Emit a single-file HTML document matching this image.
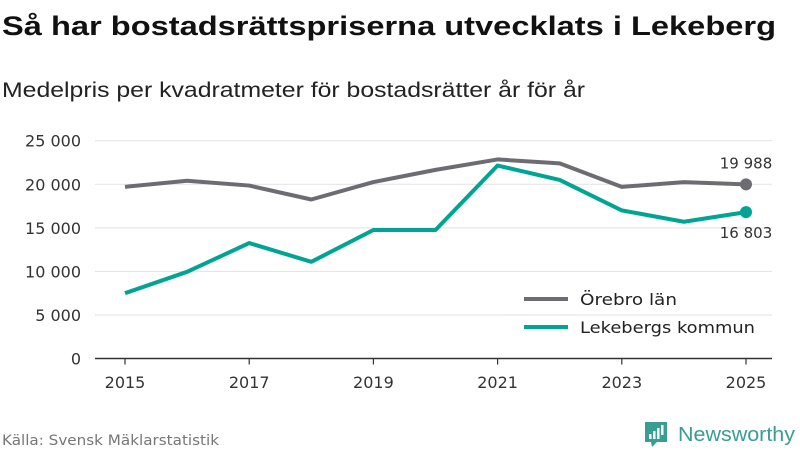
<!DOCTYPE html>
<html><head><meta charset="utf-8"><style>
html,body{margin:0;padding:0;background:#fff;}
svg{display:block;font-family:"DejaVu Sans","Liberation Sans",sans-serif;}
</style></head><body>
<svg id="chart" width="800" height="450" viewBox="0 0 800 450">
<text x="2" y="35" font-size="27" font-weight="bold" fill="#111" font-family="Liberation Sans" textLength="774" lengthAdjust="spacingAndGlyphs">Så har bostadsrättspriserna utvecklats i Lekeberg</text>
<text x="2" y="97" font-size="21" fill="#222" font-family="Liberation Sans" textLength="583" lengthAdjust="spacingAndGlyphs">Medelpris per kvadratmeter för bostadsrätter år för år</text>
<g id="grid"></g>
<g id="yaxis"></g>
<g id="xaxis"></g>
<g id="series"></g>
<g>
<line x1="524" y1="299" x2="568" y2="299" stroke="#6e6c73" stroke-width="4"/>
<text x="580" y="305" font-size="16" fill="#222" textLength="97" lengthAdjust="spacingAndGlyphs">Örebro län</text>
<line x1="524" y1="327" x2="568" y2="327" stroke="#00a493" stroke-width="4"/>
<text x="580" y="333" font-size="16" fill="#222" textLength="175" lengthAdjust="spacingAndGlyphs">Lekebergs kommun</text>
</g>
<text x="2" y="445" font-size="14" fill="#777" textLength="217" lengthAdjust="spacingAndGlyphs">Källa: Svensk Mäklarstatistik</text>
<g>
<path d="M645 422 h22 v20 h-10 l-5 5 l-1 -5 h-6 z" fill="#3a9d94"/>
<rect x="649" y="434" width="2.5" height="5" fill="#fff"/><rect x="653" y="431" width="2.5" height="8" fill="#fff"/><rect x="657" y="428" width="2.5" height="11" fill="#fff"/><rect x="661" y="425" width="2.5" height="10" fill="#fff"/>
<text x="678" y="441" font-size="20" fill="#3a9d94" font-family="Liberation Sans" textLength="117" lengthAdjust="spacingAndGlyphs">Newsworthy</text>
</g>
</svg>
<script>
const years=[2015,2016,2017,2018,2019,2020,2021,2022,2023,2024,2025];
const orebro=[19700,20400,19850,18250,20250,21650,22850,22400,19700,20250,19988];
const lekeberg=[7500,9950,13250,11100,14750,14750,22150,20500,17000,15700,16803];
const yTicks=[0,5000,10000,15000,20000,25000];
const yTickLabels=["0","5 000","10 000","15 000","20 000","25 000"];
const xTicks=[2015,2017,2019,2021,2023,2025];
const endLabels=["19 988","16 803"];
const NS="http://www.w3.org/2000/svg";
const x=v=>125+(v-2015)*62.1;
const y=v=>358.5-v*(217.8/25000);
function mk(tag,attrs,parent){const e=document.createElementNS(NS,tag);for(const k in attrs)e.setAttribute(k,attrs[k]);parent.appendChild(e);return e;}
const grid=document.getElementById('grid'),ya=document.getElementById('yaxis'),xa=document.getElementById('xaxis'),se=document.getElementById('series');
yTicks.forEach((t,i)=>{
 if(t>0){const l=mk('line',{x1:95,x2:772,y1:y(t),y2:y(t),stroke:'#e2e2e2','stroke-width':1},grid);
 
 }
 const tx=mk('text',{x:81,y:y(t)+6,'font-size':16,fill:'#333','text-anchor':'end'},ya);
 tx.textContent=yTickLabels[i];
 
 
});
const base=mk('line',{x1:95,x2:772,y1:y(0),y2:y(0),stroke:'#333','stroke-width':1.5},xa);


xTicks.forEach(t=>{
 const tk=mk('line',{x1:x(t),x2:x(t),y1:y(0),y2:y(0)+6,stroke:'#333','stroke-width':1.2},xa);
 
 
 const tx=mk('text',{x:x(t),y:388,'font-size':16,fill:'#333','text-anchor':'middle'},xa);
 tx.textContent=t;
 
 
});
function draw(vals,color,name,lbl,dy){
 const p=mk('polyline',{points:vals.map((v,i)=>x(years[i])+','+y(v)).join(' '),fill:'none',stroke:color,'stroke-width':4,'stroke-linejoin':'round'},se);
 
 
 const n=vals.length-1;
 const c=mk('circle',{cx:x(years[n]),cy:y(vals[n]),r:6,fill:color},se);
 
 
 const t=mk('text',{x:x(years[n]),y:y(vals[n])+dy,'font-size':15,fill:'#333','text-anchor':'middle'},se);
 t.textContent=lbl;
 
 
}
draw(orebro,'#6e6c73','orebro',endLabels[0],-16);
draw(lekeberg,'#00a493','lekeberg',endLabels[1],26);
</script>
</body></html>
